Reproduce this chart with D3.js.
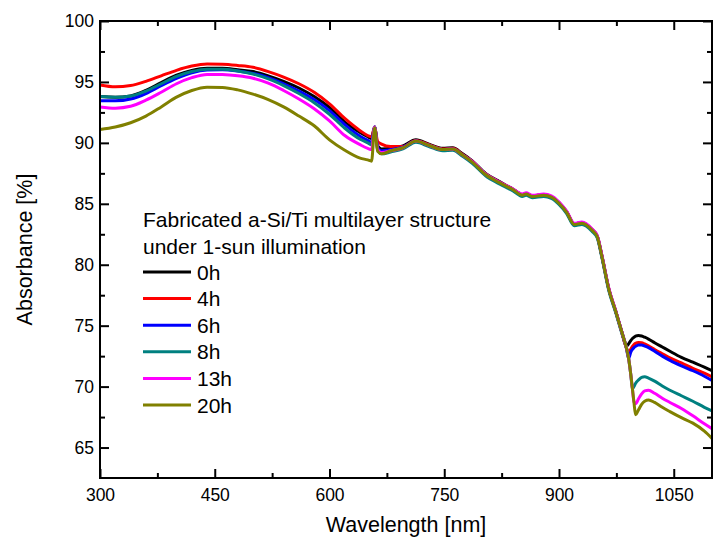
<!DOCTYPE html>
<html>
<head>
<meta charset="utf-8">
<script src="https://cdn.jsdelivr.net/npm/d3@7"></script>
<style>
  body { margin: 0; background: #fff; }
  svg text { font-family: "Liberation Sans", Arial, sans-serif; fill: #000; }
</style>
</head>
<body>
<div id="chart"></div>
<script>
// wavelength grid (nm) shared by all series
const wavelength = [300, 320, 340, 360, 380, 400, 420, 440, 460, 480, 500, 520, 540, 560, 580, 600, 620, 640,
  650, 655, 659, 663, 668, 680, 696, 713, 730, 748, 761, 774, 787, 804,
  820, 831, 840, 848, 852, 857, 865, 880, 890, 900,
  910, 920, 930, 943, 950, 956, 965, 974, 982, 988,
  991, 994, 996, 998, 1000, 1004, 1008, 1012, 1017,
  1025, 1035, 1045, 1060, 1075, 1090, 1100];

const abs0h = [93.8, 93.75, 93.85, 94.3, 94.95, 95.55, 95.95, 96.12, 96.12, 96.0, 95.85, 95.5, 95.05, 94.5, 93.8, 92.9, 91.7, 90.85,
  90.5, 90.35, 91.3, 89.75, 89.5, 89.55, 89.75, 90.25, 89.9, 89.55, 89.6, 89.1, 88.5, 87.5,
  86.9, 86.5, 86.2, 85.85, 85.75, 85.85, 85.65, 85.75, 85.6, 85.1,
  84.35, 83.35, 83.45, 82.9, 82.35, 80.75, 78.05, 76.2, 74.5, 73.3,
  73.5, 73.8, 73.95, 74.05, 74.15, 74.2, 74.15, 74.05, 73.9,
  73.6, 73.25, 72.9, 72.4, 72.0, 71.6, 71.3];

const abs4h = [94.75, 94.6, 94.7, 95.05, 95.5, 95.95, 96.3, 96.47, 96.45, 96.35, 96.2, 95.85, 95.4, 94.85, 94.15, 93.2, 92.0, 91.0,
  90.6, 90.5, 91.3, 90.1, 89.9, 89.7, 89.7, 90.2, 89.85, 89.5, 89.55, 89.05, 88.45, 87.45,
  86.85, 86.5, 86.2, 85.85, 85.75, 85.85, 85.65, 85.75, 85.6, 85.1,
  84.35, 83.35, 83.45, 82.9, 82.35, 80.75, 78.05, 76.2, 74.5, 73.2,
  72.8, 73.1, 73.3, 73.45, 73.55, 73.62, 73.6, 73.5, 73.35,
  73.05, 72.7, 72.35, 71.95, 71.5, 71.1, 70.8];

const abs6h = [93.45, 93.45, 93.6, 94.05, 94.7, 95.3, 95.75, 95.97, 96.0, 95.9, 95.7, 95.35, 94.85, 94.25, 93.55, 92.65, 91.5, 90.55,
  90.2, 90.05, 91.3, 89.6, 89.35, 89.45, 89.65, 90.15, 89.8, 89.45, 89.5, 89.0, 88.4, 87.4,
  86.8, 86.45, 86.15, 85.8, 85.7, 85.8, 85.6, 85.7, 85.55, 85.05,
  84.3, 83.3, 83.4, 82.85, 82.3, 80.7, 78.0, 76.2, 74.5, 73.2,
  72.3, 72.85, 73.05, 73.2, 73.3, 73.42, 73.42, 73.33, 73.2,
  72.9, 72.5, 72.15, 71.7, 71.3, 70.85, 70.5];

const abs8h = [93.8, 93.75, 93.85, 94.25, 94.85, 95.45, 95.85, 96.05, 96.05, 95.9, 95.65, 95.25, 94.7, 94.05, 93.3, 92.35, 91.2, 90.3,
  90.0, 89.85, 91.3, 89.4, 89.1, 89.25, 89.5, 90.05, 89.7, 89.35, 89.4, 88.9, 88.3, 87.3,
  86.7, 86.35, 86.05, 85.7, 85.6, 85.7, 85.5, 85.6, 85.45, 84.95,
  84.2, 83.2, 83.3, 82.75, 82.2, 80.6, 77.9, 76.1, 74.4, 73.2,
  72.3, 70.9, 69.8, 70.0, 70.25, 70.55, 70.75, 70.8, 70.7,
  70.45, 70.05, 69.7, 69.25, 68.8, 68.3, 68.0];

const abs13h = [92.95, 92.85, 93.0, 93.5, 94.15, 94.85, 95.35, 95.62, 95.6, 95.5, 95.3, 94.9, 94.3, 93.6, 92.8, 91.8, 90.6, 89.85,
  89.55, 89.45, 91.3, 89.45, 89.2, 89.35, 89.6, 90.15, 89.8, 89.45, 89.5, 89.0, 88.45, 87.45,
  86.85, 86.5, 86.2, 85.9, 85.8, 85.9, 85.7, 85.8, 85.65, 85.15,
  84.4, 83.4, 83.5, 82.95, 82.4, 80.8, 78.1, 76.25, 74.5, 73.2,
  72.3, 70.9, 69.8, 68.75, 68.6, 69.0, 69.4, 69.65, 69.7,
  69.45, 69.05, 68.7, 68.2, 67.6, 66.95, 66.55];

const abs20h = [91.1, 91.3, 91.65, 92.2, 92.95, 93.75, 94.3, 94.57, 94.55, 94.35, 94.0, 93.55, 92.95, 92.2, 91.4, 90.25, 89.4, 88.75,
  88.6, 88.5, 91.25, 89.3, 89.1, 89.35, 89.6, 90.15, 89.8, 89.45, 89.5, 89.0, 88.4, 87.4,
  86.8, 86.45, 86.15, 85.8, 85.7, 85.8, 85.6, 85.7, 85.55, 85.05,
  84.3, 83.3, 83.4, 82.85, 82.3, 80.7, 78.0, 76.2, 74.5, 73.2,
  72.3, 70.9, 69.8, 68.7, 67.7, 68.1, 68.55, 68.8, 68.9,
  68.7, 68.3, 67.95, 67.45, 67.0, 66.35, 65.75];

const seriesNames = ["0h", "4h", "6h", "8h", "13h", "20h"];
const seriesValues = [abs0h, abs4h, abs6h, abs8h, abs13h, abs20h];
const seriesColors = ["#000000", "#ff0000", "#0000ff", "#008080", "#ff00ff", "#808000"];

const xTicks = [300, 450, 600, 750, 900, 1050];
const yTicks = [65, 70, 75, 80, 85, 90, 95, 100];
const legendTitle = ["Fabricated a-Si/Ti multilayer structure", "under 1-sun illumination"];

const W = 715, H = 550;
const margin = { top: 21, right: 3, bottom: 72, left: 100 };
const width = W - margin.left - margin.right,
  height = H - margin.top - margin.bottom;

const svg = d3.select("#chart").append("svg")
  .attr("width", W)
  .attr("height", H);

const g = svg.append("g")
  .attr("transform", `translate(${margin.left},${margin.top})`);

const x = d3.scaleLinear().domain([300, 1100]).range([0, width]);
const y = d3.scaleLinear().domain([62.5, 100]).range([height, 0]);

// curves
const line = d3.line()
  .x(d => x(d[0]))
  .y(d => y(d[1]))
  .curve(d3.curveMonotoneX);

seriesValues.forEach((vals, i) => {
  g.append("path")
    .datum(wavelength.map((w, j) => [w, vals[j]]))
    .attr("fill", "none")
    .attr("stroke", seriesColors[i])
    .attr("stroke-width", 3)
    .attr("stroke-linejoin", "round")
    .attr("d", line);
});

// axes, ticks pointing inward on all sides
const xMinor = d3.range(375, 1100, 150);
const yMinor = d3.range(67.5, 100, 5);

function styleAxis(sel) {
  sel.select(".domain").remove();
  sel.selectAll(".tick line").attr("stroke", "#000").attr("stroke-width", 2);
  sel.selectAll(".tick text").style("font-size", "17.5px");
}

const xAxis = g.append("g")
  .attr("transform", `translate(0,${height})`)
  .call(d3.axisBottom(x).tickValues(xTicks).tickSize(-9).tickPadding(11).tickFormat(d3.format("d")));
styleAxis(xAxis);

g.append("g")
  .attr("transform", `translate(0,${height})`)
  .call(d3.axisBottom(x).tickValues(xMinor).tickSize(-5).tickFormat(""))
  .call(styleAxis);

const yAxis = g.append("g")
  .call(d3.axisLeft(y).tickValues(yTicks).tickSize(-9).tickPadding(6).tickFormat(d3.format("d")));
styleAxis(yAxis);

g.append("g")
  .call(d3.axisLeft(y).tickValues(yMinor).tickSize(-5).tickFormat(""))
  .call(styleAxis);

g.append("g")
  .call(d3.axisTop(x).tickValues(xTicks).tickSize(-9).tickFormat(""))
  .call(styleAxis);
g.append("g")
  .call(d3.axisTop(x).tickValues(xMinor).tickSize(-5).tickFormat(""))
  .call(styleAxis);
g.append("g")
  .attr("transform", `translate(${width},0)`)
  .call(d3.axisRight(y).tickValues(yTicks).tickSize(-9).tickFormat(""))
  .call(styleAxis);
g.append("g")
  .attr("transform", `translate(${width},0)`)
  .call(d3.axisRight(y).tickValues(yMinor).tickSize(-5).tickFormat(""))
  .call(styleAxis);

// frame
g.append("rect")
  .attr("width", width)
  .attr("height", height)
  .attr("fill", "none")
  .attr("stroke", "#000")
  .attr("stroke-width", 2);

// axis titles
svg.append("text")
  .attr("x", margin.left + width / 2)
  .attr("y", 532)
  .attr("text-anchor", "middle")
  .style("font-size", "21.5px")
  .text("Wavelength [nm]");

svg.append("text")
  .attr("transform", `translate(32,${margin.top + height / 2}) rotate(-90)`)
  .attr("text-anchor", "middle")
  .style("font-size", "21.5px")
  .text("Absorbance [%]");

// legend
const legend = g.append("g")
  .attr("transform", `translate(${143 - margin.left},${227 - margin.top})`);

legend.selectAll(".ltitle")
  .data(legendTitle)
  .enter().append("text")
  .attr("class", "ltitle")
  .attr("x", 0)
  .attr("y", (d, i) => i * 26.5)
  .style("font-size", "21px")
  .text(d => d);

const items = legend.selectAll(".item")
  .data(seriesNames)
  .enter().append("g")
  .attr("class", "item")
  .attr("transform", (d, i) => `translate(0,${45 + i * 26.6})`);

items.append("line")
  .attr("x1", 0).attr("x2", 48)
  .attr("stroke", (d, i) => seriesColors[i])
  .attr("stroke-width", 3);

items.append("text")
  .attr("x", 54)
  .attr("y", 7.5)
  .style("font-size", "21px")
  .text(d => d);
</script>
</body>
</html>
